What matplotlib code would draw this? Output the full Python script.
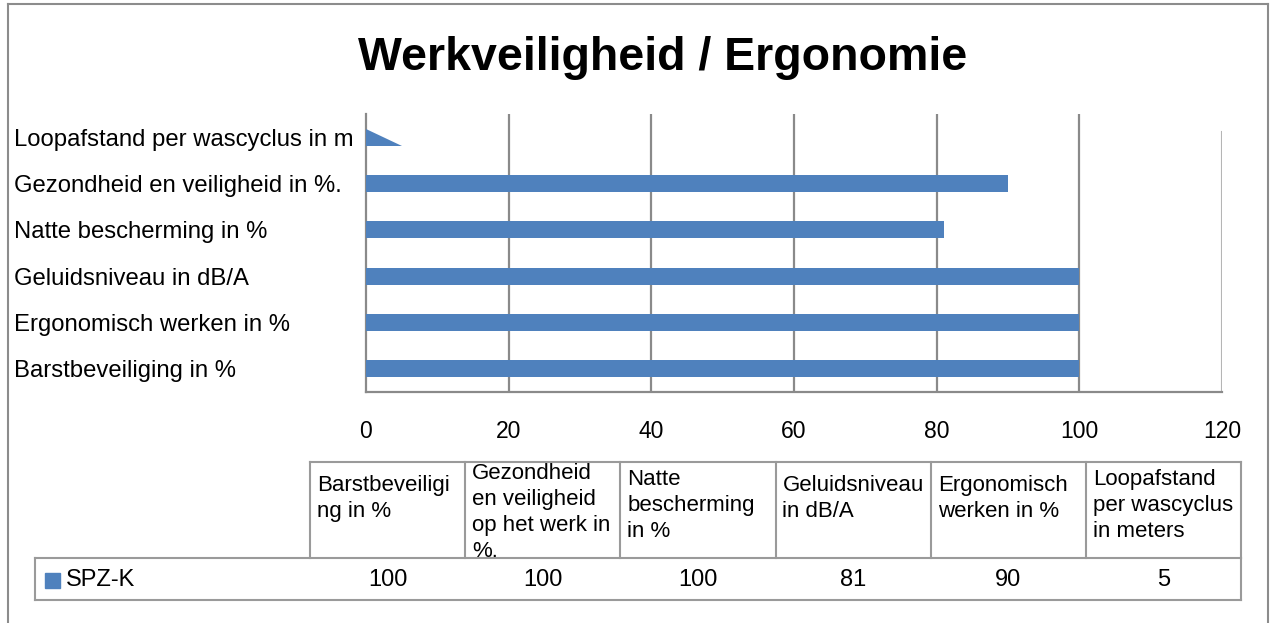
import matplotlib.pyplot as plt
from matplotlib.lines import Line2D
from matplotlib.patches import Rectangle

plt.rcParams['font.family'] = ['Liberation Sans', 'DejaVu Sans']

# Data
title = 'Werkveiligheid / Ergonomie'
series_name = 'SPZ-K'
# labels on the axis, bottom to top (as Excel drew them)
axis_labels = ['Barstbeveiliging in %', 'Ergonomisch werken in %', 'Geluidsniveau in dB/A',
               'Natte bescherming in %', 'Gezondheid en veiligheid in %.',
               'Loopafstand per wascyclus in m']
# data table headers, in table order
table_headers = ['Barstbeveiligi\nng in %', 'Gezondheid\nen veiligheid\nop het werk in\n%.',
                 'Natte\nbescherming\nin %', 'Geluidsniveau\nin dB/A',
                 'Ergonomisch\nwerken in %', 'Loopafstand\nper wascyclus\nin meters']
values = [100, 100, 100, 81, 90, 5]
x_ticks = [0, 20, 40, 60, 80, 100, 120]

W, H = 1271, 623
blue = '#4F81BD'
grid_col = '#8a8a8a'
table_col = '#9a9a9a'


# pixel -> figure fraction helpers
def fx(x):
    return x / W


def fy(y):
    return 1 - y / H


fig = plt.figure(figsize=(W / 100, H / 100), dpi=100)

# outer chart border (top, left, right)
for xs, ys in [([8, 1268], [4, 4]), ([8, 8], [4, 623]), ([1268, 1268], [4, 623])]:
    fig.add_artist(Line2D([fx(x) for x in xs], [fy(y) for y in ys], color='#8c8c8c', lw=1.5))

fig.text(fx(663), fy(70), title, ha='center', va='baseline', fontsize=33.5, fontweight='bold')

ax = fig.add_axes([fx(366), fy(392), fx(1222) - fx(366), fy(114) - fy(392)])

h = 0.37
n = len(values)
for i, v in enumerate(values):
    if i == n - 1:
        # last bar was rendered as a wedge in the original
        ax.fill([0, 0, v], [i + h / 2, i - h / 2, i - h / 2], color=blue, lw=0, zorder=3)
    else:
        ax.barh(i, v, height=h, color=blue, zorder=3)

ax.set_xlim(0, 120)
ax.set_ylim(-0.5, n - 0.5)
ax.set_xticks(x_ticks)
ax.set_yticks(range(n))
ax.set_yticklabels(axis_labels, fontsize=17.2)
for lab in ax.get_yticklabels():
    lab.set_horizontalalignment('left')
ax.tick_params(axis='y', length=0, pad=(366 - 14) * 0.72)
ax.tick_params(axis='x', length=0, pad=20, labelsize=16.5)

for t in x_ticks[1:-1]:
    ax.axvline(t, color=grid_col, lw=1.6, zorder=1)
ax.axvline(120, ymax=(392 - 132) / (392 - 114), color='#b5b5b5', lw=1.5, zorder=1)

for s in ['top', 'right']:
    ax.spines[s].set_visible(False)
ax.spines['left'].set_color(grid_col)
ax.spines['bottom'].set_color(grid_col)
ax.spines['left'].set_linewidth(1.6)
ax.spines['bottom'].set_linewidth(1.6)

# data table below the chart
col_left, col_right = 310, 1241
col_w = (col_right - col_left) / len(table_headers)
head_top, head_bot, row_bot = 462, 558, 600
row_left = 35


def hline(x0, x1, y):
    fig.add_artist(Line2D([fx(x0), fx(x1)], [fy(y), fy(y)], color=table_col, lw=1.5, zorder=5))


def vline(x, y0, y1):
    fig.add_artist(Line2D([fx(x), fx(x)], [fy(y0), fy(y1)], color=table_col, lw=1.5, zorder=5))


hline(col_left, col_right, head_top)
hline(row_left, col_right, head_bot)
hline(row_left, col_right, row_bot)
for k in range(len(table_headers) + 1):
    vline(col_left + k * col_w, head_top, head_bot)
vline(row_left, head_bot, row_bot)
vline(col_right, head_bot, row_bot)

for k, (head, v) in enumerate(zip(table_headers, values)):
    x0 = col_left + k * col_w
    nl = head.count('\n') + 1
    fig.text(fx(x0 + 7), fy(475 - (nl - 2) * 6), head, ha='left', va='top',
             fontsize=16, linespacing=1.32, zorder=4)
    fig.text(fx(x0 + col_w / 2), fy(580), str(v), ha='center', va='center', fontsize=17)

fig.add_artist(Rectangle((fx(45), fy(588)), fx(60) - fx(45), fy(573) - fy(588), color=blue))
fig.text(fx(66), fy(580), series_name, ha='left', va='center', fontsize=17)

fig.savefig('out.png', dpi=100)
